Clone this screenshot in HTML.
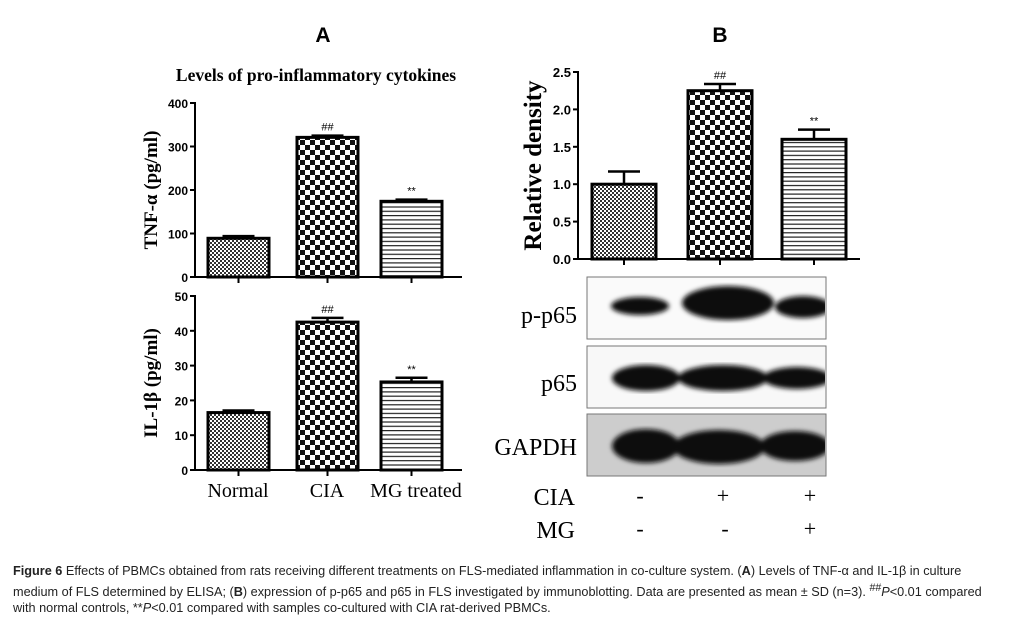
<!DOCTYPE html>
<html><head><meta charset="utf-8"><style>
body{margin:0;background:#fff;width:1013px;height:630px;overflow:hidden;position:relative;font-family:"Liberation Sans",sans-serif}
.cap{position:absolute;left:13px;top:563px;width:1000px;font-size:12.7px;white-space:nowrap;line-height:16.5px;color:#222}
</style></head><body>
<svg width="1013" height="560" style="position:absolute;left:0;top:0">
<defs>
<pattern id="fine" width="4" height="4" patternUnits="userSpaceOnUse"><rect width="4" height="4" fill="#fff"/><rect width="2" height="2" fill="#333"/><rect x="2" y="2" width="2" height="2" fill="#333"/></pattern>
<pattern id="coarse" width="10" height="10" patternUnits="userSpaceOnUse"><rect width="10" height="10" fill="#fff"/><rect width="5" height="5" fill="#111"/><rect x="5" y="5" width="5" height="5" fill="#111"/></pattern>
<pattern id="hlines" width="4" height="4.3" patternUnits="userSpaceOnUse"><rect width="4" height="4.3" fill="#fff"/><rect y="0" width="4" height="1.2" fill="#222"/></pattern>
<filter id="blur"><feGaussianBlur stdDeviation="2.5"/></filter>
<clipPath id="c1"><rect x="588" y="278" width="237" height="60"/></clipPath>
<clipPath id="c2"><rect x="588" y="347" width="237" height="60"/></clipPath>
<clipPath id="c3"><rect x="588" y="415" width="237" height="60"/></clipPath>
</defs>
<g id="charts"></g>
<text x="323" y="42" font-family="Liberation Sans" font-weight="bold" font-size="21" text-anchor="middle">A</text>
<text x="720" y="42" font-family="Liberation Sans" font-weight="bold" font-size="21" text-anchor="middle">B</text>
<text x="316" y="81" font-family="Liberation Serif" font-weight="bold" font-size="17.5" text-anchor="middle">Levels of pro-inflammatory cytokines</text>
<g font-family="Liberation Serif" font-size="20" text-anchor="middle">
<text x="238" y="497">Normal</text>
<text x="327" y="497">CIA</text>
<text x="416" y="497">MG treated</text>
</g>
<g>
<rect x="587" y="277" width="239" height="62" fill="#fafafa" stroke="#777"/>
<rect x="587" y="346" width="239" height="62" fill="#f8f8f8" stroke="#777"/>
<rect x="587" y="414" width="239" height="62" fill="#cdcdcd" stroke="#777"/>
<g filter="url(#blur)" fill="#111" clip-path="url(#c1)">
<ellipse cx="640" cy="306" rx="29" ry="9"/>
<ellipse cx="728" cy="303" rx="46" ry="17"/>
<ellipse cx="803" cy="307" rx="28" ry="11"/>
</g>
<g filter="url(#blur)" fill="#111" clip-path="url(#c2)">
<ellipse cx="646" cy="378" rx="34" ry="13"/>
<ellipse cx="723" cy="378" rx="45" ry="13"/>
<ellipse cx="797" cy="378" rx="34" ry="11"/>
</g>
<g filter="url(#blur)" fill="#111" clip-path="url(#c3)">
<ellipse cx="646" cy="446" rx="34" ry="17"/>
<ellipse cx="719" cy="447" rx="46" ry="17"/>
<ellipse cx="795" cy="446" rx="35" ry="15"/>
</g>
</g>
<g font-family="Liberation Serif" font-size="24" text-anchor="end">
<text x="577" y="323">p-p65</text>
<text x="577" y="391">p65</text>
<text x="577" y="455">GAPDH</text>
<text x="575" y="505">CIA</text>
<text x="575" y="538">MG</text>
</g>
<g font-family="Liberation Serif" font-size="22" text-anchor="middle">
<text x="640" y="503">-</text><text x="723" y="503">+</text><text x="810" y="503">+</text>
<text x="640" y="536">-</text><text x="725" y="536">-</text><text x="810" y="536">+</text>
</g>
</svg>
<div class="cap"><b>Figure 6</b> Effects of PBMCs obtained from rats receiving different treatments on FLS-mediated inflammation in co-culture system. (<b>A</b>) Levels of TNF-α and IL-1β in culture<br>medium of FLS determined by ELISA; (<b>B</b>) expression of p-p65 and p65 in FLS investigated by immunoblotting. Data are presented as mean ± SD (n=3). <sup>##</sup><i>P</i>&lt;0.01 compared<br>with normal controls, **<i>P</i>&lt;0.01 compared with samples co-cultured with CIA rat-derived PBMCs.</div>
<script>
const categories=["Normal","CIA","MG treated"];
const tnfValues=[89,321,174];
const tnfErrors=[5,4,4];
const il1Values=[16.5,42.5,25.3];
const il1Errors=[0.6,1.2,1.2];
const densityValues=[1.0,2.25,1.6];
const densityErrors=[0.17,0.09,0.13];
const tnfTicks=[0,100,200,300,400];
const il1Ticks=[0,10,20,30,40,50];
const densityTicks=["0.0","0.5","1.0","1.5","2.0","2.5"];
const marks=["","##","**"];
const fills=["url(#fine)","url(#coarse)","url(#hlines)"];
const NS="http://www.w3.org/2000/svg";
const root=document.getElementById('charts');
function mk(t,a,p){const e=document.createElementNS(NS,t);for(const k in a)e.setAttribute(k,a[k]);(p||root).appendChild(e);return e;}
function chart(cfg){
  const g=mk('g',{});
  
  
  const y=v=>cfg.y0-(v-cfg.min)/(cfg.max-cfg.min)*(cfg.y0-cfg.y1);
  cfg.ticks.forEach(t=>{const v=parseFloat(t);const yy=y(v);
    mk('line',{x1:cfg.ax-5,x2:cfg.ax,y1:yy,y2:yy,stroke:'#000','stroke-width':2},g);
    const tx=mk('text',{x:cfg.ax-7,y:yy+5,'text-anchor':'end','font-family':'Liberation Sans','font-weight':'bold','font-size':cfg.tfs},g);tx.textContent=t;
    
    });
  cfg.vals.forEach((v,i)=>{const x=cfg.bx[i];const top=y(v);const et=y(v+cfg.errs[i]);const cx=x+cfg.bw/2;
    mk('line',{x1:cx,x2:cx,y1:top,y2:et,stroke:'#000','stroke-width':2.5},g);
    mk('line',{x1:cx-16,x2:cx+16,y1:et,y2:et,stroke:'#000','stroke-width':2.5},g);
    const r=mk('rect',{x:x,y:top,width:cfg.bw,height:cfg.y0-top,fill:fills[i],stroke:'#000','stroke-width':3},g);
    
    
    mk('line',{x1:cx,x2:cx,y1:cfg.y0,y2:cfg.y0+6,stroke:'#000','stroke-width':2},g);
    if(marks[i]){const m=mk('text',{x:cx,y:et-5,'text-anchor':'middle','font-family':'Liberation Sans','font-size':11},g);m.textContent=marks[i];
      
      }
  });
  mk('line',{x1:cfg.ax,x2:cfg.ax,y1:cfg.y1-1,y2:cfg.y0,stroke:'#000','stroke-width':2},g);
  mk('line',{x1:cfg.ax,x2:cfg.xe,y1:cfg.y0,y2:cfg.y0,stroke:'#000','stroke-width':2},g);
  const lt=mk('text',{transform:`translate(${cfg.lx},${(cfg.y0+cfg.y1)/2}) rotate(-90)`,'text-anchor':'middle','font-family':'Liberation Serif','font-weight':'bold','font-size':cfg.lfs},g);lt.textContent=cfg.label;
  
  
}
chart({name:'tnf-chart',vals:tnfValues,errs:tnfErrors,ticks:tnfTicks.map(String),min:0,max:400,y0:277,y1:103,ax:195,xe:462,bx:[208,297,381],bw:61,tfs:12,lfs:19,lx:157,label:'TNF-α (pg/ml)'});
chart({name:'il1b-chart',vals:il1Values,errs:il1Errors,ticks:il1Ticks.map(String),min:0,max:50,y0:470,y1:296,ax:195,xe:462,bx:[208,297,381],bw:61,tfs:12,lfs:19,lx:157,label:'IL-1β (pg/ml)'});
chart({name:'density-chart',vals:densityValues,errs:densityErrors,ticks:densityTicks,min:0,max:2.5,y0:259,y1:72,ax:578,xe:860,bx:[592,688,782],bw:64,tfs:13,lfs:25,lx:541,label:'Relative density'});
</script>
</body></html>
